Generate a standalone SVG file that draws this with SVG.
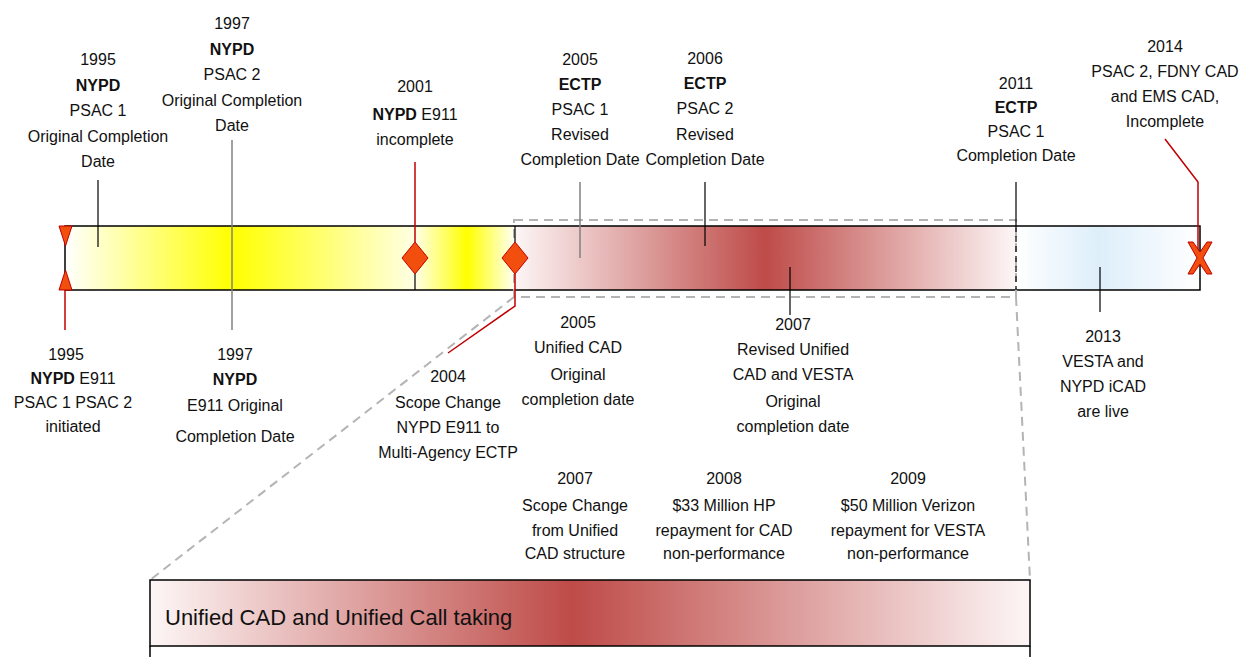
<svg xmlns="http://www.w3.org/2000/svg" width="1252" height="657" viewBox="0 0 1252 657">
<style>
text{font-family:"Liberation Sans",Arial,sans-serif;font-size:16px;fill:#111;text-anchor:middle}
.b{font-weight:bold}
.big{font-size:22px;text-anchor:start}
.blk{stroke:#000;stroke-width:1.2;fill:none}
.gry{stroke:#808080;stroke-width:1.5;fill:none}
.red{stroke:#C00000;stroke-width:1.5;fill:none}
.dash{stroke:#B4B4B4;stroke-width:2;stroke-dasharray:9,6;fill:none}
.mark{fill:#F24E0D;stroke:#C00000;stroke-width:1}
</style>
<defs>
<linearGradient id="y1" x1="0" x2="1" y1="0" y2="0">
<stop offset="0" stop-color="#FFFFFF"/><stop offset="0.477" stop-color="#FFFF00"/><stop offset="1" stop-color="#FFFFE4"/>
</linearGradient>
<linearGradient id="y2" x1="0" x2="1" y1="0" y2="0">
<stop offset="0" stop-color="#FFFFE8"/><stop offset="0.53" stop-color="#FFFF00"/><stop offset="1" stop-color="#FFFFF2"/>
</linearGradient>
<linearGradient id="r1" x1="0" x2="1" y1="0" y2="0">
<stop offset="0" stop-color="#FDF6F6"/><stop offset="0.5" stop-color="#BE4B48"/><stop offset="1" stop-color="#FDF6F6"/>
</linearGradient>
<linearGradient id="b1" x1="0" x2="1" y1="0" y2="0">
<stop offset="0" stop-color="#FFFFFF"/><stop offset="0.45" stop-color="#DDEEFA"/><stop offset="1" stop-color="#FFFFFF"/>
</linearGradient>
<linearGradient id="r2" x1="0" x2="1" y1="0" y2="0">
<stop offset="0" stop-color="#FDF6F6"/><stop offset="0.48" stop-color="#BE4B48"/><stop offset="1" stop-color="#FDF6F6"/>
</linearGradient>
</defs>

<g id="main-bar">
<rect x="65" y="226" width="350" height="64" fill="url(#y1)"/>
<rect x="415" y="226" width="99" height="64" fill="url(#y2)"/>
<rect x="514" y="226" width="502" height="64" fill="url(#r1)"/>
<rect x="1016" y="226" width="184" height="64" fill="url(#b1)"/>
<rect x="65" y="226" width="1135" height="64" fill="none" stroke="#000" stroke-width="1.5"/>
</g>

<g id="connectors">
<rect class="dash" x="514" y="220" width="502" height="77"/>
<line class="dash" x1="514" y1="297" x2="150" y2="580"/>
<line class="dash" x1="1016" y1="297" x2="1030" y2="580"/>
<line class="blk" x1="98" y1="180" x2="98" y2="247"/>
<line class="gry" x1="232" y1="140" x2="232" y2="330"/>
<line class="red" x1="415" y1="162" x2="415" y2="242"/>
<line class="blk" x1="415" y1="274" x2="415" y2="290"/>
<line class="blk" x1="515" y1="226" x2="515" y2="242"/>
<polyline class="red" points="515,274 515,306 448,353"/>
<line class="gry" x1="580" y1="182" x2="580" y2="258"/>
<line class="blk" x1="705" y1="182" x2="705" y2="246" stroke="#444"/>
<line class="blk" x1="790" y1="267" x2="790" y2="315"/>
<line class="blk" x1="1016" y1="182" x2="1016" y2="226"/>
<line class="blk" x1="1016" y1="226" x2="1016" y2="290" stroke-dasharray="6,4"/>
<line class="blk" x1="1100" y1="267" x2="1100" y2="312"/>
<polyline class="red" points="1165,139 1198,182 1198,258"/>
<line class="red" x1="65" y1="290" x2="65" y2="330"/>
<line class="blk" x1="575" y1="580" x2="575" y2="608"/>
<line class="blk" x1="723" y1="580" x2="723" y2="608"/>
<line class="blk" x1="907" y1="580" x2="907" y2="608"/>
</g>

<g id="m1995">
<polygon class="mark" points="59,226 72,226 65.5,246"/>
<polygon class="mark" points="59,290 72,290 65.5,270"/>
</g>
<g id="m2001">
<polygon class="mark" points="415,242 428,258 415,274 402,258"/>
</g>
<g id="m2004">
<polygon class="mark" points="515,242 528,258 515,274 502,258"/>
</g>
<g id="m2014">
<polygon class="mark" points="1188,242 1193,242 1200,252 1207,242 1212,242 1203,258 1212,274 1207,274 1200,264 1193,274 1188,274 1197,258"/>
</g>

<g id="bottom-bar">
<rect x="150" y="580" width="880" height="66" fill="url(#r2)" stroke="#000" stroke-width="1.5"/>
<path d="M150,646 V660 M1030,646 V660" stroke="#000" stroke-width="1.5"/>
<text class="big" x="165" y="625">Unified CAD and Unified Call taking</text>
</g>

<g id="t1995a"><text x="98" y="65">1995</text><text class="b" x="98" y="91">NYPD</text><text x="98" y="116">PSAC 1</text><text x="98" y="142">Original Completion</text><text x="98" y="167">Date</text></g>
<g id="t1997a"><text x="232" y="29">1997</text><text class="b" x="232" y="55">NYPD</text><text x="232" y="80">PSAC 2</text><text x="232" y="106">Original Completion</text><text x="232" y="131">Date</text></g>
<g id="t2001"><text x="415" y="92">2001</text><text x="415" y="120"><tspan class="b">NYPD</tspan> E911</text><text x="415" y="145">incomplete</text></g>
<g id="t2005a"><text x="580" y="65">2005</text><text class="b" x="580" y="90">ECTP</text><text x="580" y="115">PSAC 1</text><text x="580" y="140">Revised</text><text x="580" y="165">Completion Date</text></g>
<g id="t2006"><text x="705" y="64">2006</text><text class="b" x="705" y="89">ECTP</text><text x="705" y="114">PSAC 2</text><text x="705" y="140">Revised</text><text x="705" y="165">Completion Date</text></g>
<g id="t2011"><text x="1016" y="89">2011</text><text class="b" x="1016" y="113">ECTP</text><text x="1016" y="137">PSAC 1</text><text x="1016" y="161">Completion Date</text></g>
<g id="t2014"><text x="1165" y="52">2014</text><text x="1165" y="77">PSAC 2, FDNY CAD</text><text x="1165" y="102">and EMS CAD,</text><text x="1165" y="127">Incomplete</text></g>

<g id="t1995b"><text x="66" y="360">1995</text><text x="73" y="384"><tspan class="b">NYPD</tspan> E911</text><text x="73" y="408">PSAC 1 PSAC 2</text><text x="73" y="432">initiated</text></g>
<g id="t1997b"><text x="235" y="360">1997</text><text class="b" x="235" y="385">NYPD</text><text x="235" y="411">E911 Original</text><text x="235" y="442">Completion Date</text></g>
<g id="t2004"><text x="448" y="382">2004</text><text x="448" y="408">Scope Change</text><text x="448" y="433">NYPD E911 to</text><text x="448" y="458">Multi-Agency ECTP</text></g>
<g id="t2005b"><text x="578" y="328">2005</text><text x="578" y="353">Unified CAD</text><text x="578" y="380">Original</text><text x="578" y="405">completion date</text></g>
<g id="t2007a"><text x="793" y="330">2007</text><text x="793" y="355">Revised Unified</text><text x="793" y="380">CAD and VESTA</text><text x="793" y="407">Original</text><text x="793" y="432">completion date</text></g>
<g id="t2013"><text x="1103" y="342">2013</text><text x="1103" y="367">VESTA and</text><text x="1103" y="392">NYPD iCAD</text><text x="1103" y="417">are live</text></g>
<g id="t2007b"><text x="575" y="484">2007</text><text x="575" y="511">Scope Change</text><text x="575" y="536">from Unified</text><text x="575" y="559">CAD structure</text></g>
<g id="t2008"><text x="724" y="484">2008</text><text x="724" y="511">$33 Million HP</text><text x="724" y="536">repayment for CAD</text><text x="724" y="559">non-performance</text></g>
<g id="t2009"><text x="908" y="484">2009</text><text x="908" y="511">$50 Million Verizon</text><text x="908" y="536">repayment for VESTA</text><text x="908" y="559">non-performance</text></g>
</svg>
